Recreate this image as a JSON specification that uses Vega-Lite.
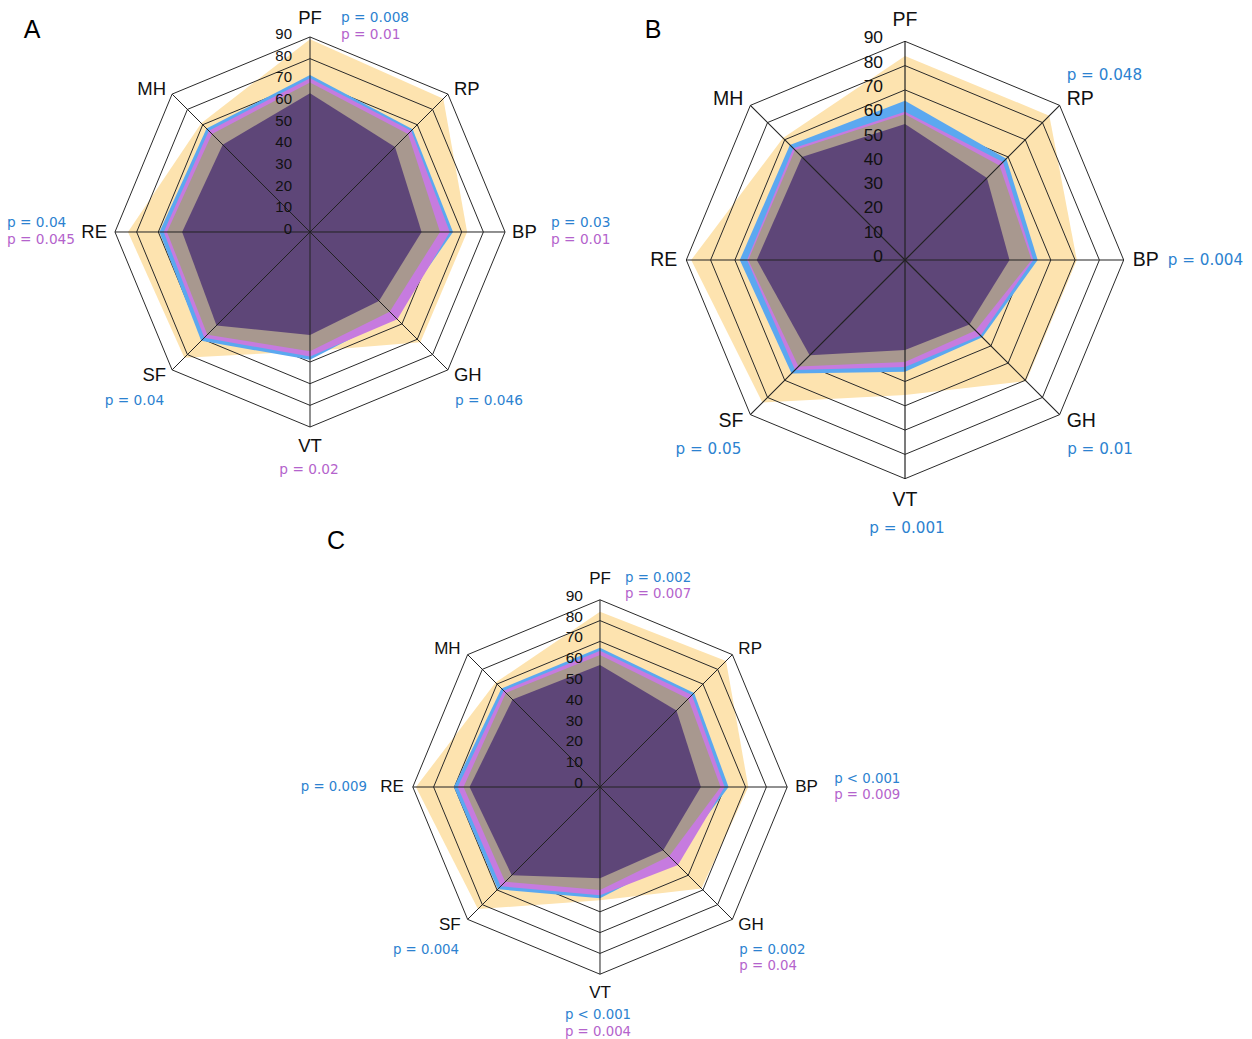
{
  "$schema": "https://vega.github.io/schema/vega-lite/v6.json",
  "padding": 0,
  "background": "white",
  "config": {"view": {"stroke": null}, "concat": {"spacing": 0}},
  "datasets": {
    "scores": [
      {"panel": "A", "grp": "O", "PF": 89, "RP": 87, "BP": 72.5, "GH": 72, "VT": 55, "SF": 82, "RE": 84, "MH": 71},
      {"panel": "A", "grp": "B", "PF": 72.5, "RP": 67, "BP": 66, "GH": 55, "VT": 59, "SF": 71, "RE": 69.5, "MH": 67.5},
      {"panel": "A", "grp": "M", "PF": 71, "RP": 66, "BP": 64.5, "GH": 57, "VT": 57.5, "SF": 69, "RE": 67.5, "MH": 66},
      {"panel": "A", "grp": "G", "PF": 69, "RP": 64, "BP": 60, "GH": 52, "VT": 55, "SF": 67, "RE": 66, "MH": 64},
      {"panel": "A", "grp": "D", "PF": 64, "RP": 55.5, "BP": 51.5, "GH": 45, "VT": 47.5, "SF": 61, "RE": 59, "MH": 57},
      {"panel": "B", "grp": "O", "PF": 84, "RP": 84, "BP": 70.7, "GH": 70.5, "VT": 55.6, "SF": 83, "RE": 88, "MH": 71},
      {"panel": "B", "grp": "B", "PF": 65.5, "RP": 59, "BP": 54.6, "GH": 45, "VT": 46, "SF": 66, "RE": 68, "MH": 67},
      {"panel": "B", "grp": "M", "PF": 61, "RP": 57, "BP": 52.8, "GH": 44, "VT": 44, "SF": 64, "RE": 65, "MH": 65},
      {"panel": "B", "grp": "G", "PF": 60, "RP": 55, "BP": 52.1, "GH": 41, "VT": 42, "SF": 62, "RE": 64.5, "MH": 64},
      {"panel": "B", "grp": "D", "PF": 56, "RP": 47.7, "BP": 43, "GH": 37.5, "VT": 37, "SF": 55.5, "RE": 61, "MH": 60},
      {"panel": "C", "grp": "O", "PF": 84.3, "RP": 85.7, "BP": 71.3, "GH": 69, "VT": 54.5, "SF": 83, "RE": 88.5, "MH": 71},
      {"panel": "C", "grp": "B", "PF": 67, "RP": 64, "BP": 61.8, "GH": 50, "VT": 53.5, "SF": 69.5, "RE": 70.3, "MH": 67},
      {"panel": "C", "grp": "M", "PF": 65.5, "RP": 62.5, "BP": 59.9, "GH": 53, "VT": 52, "SF": 67.5, "RE": 68.4, "MH": 65.5},
      {"panel": "C", "grp": "G", "PF": 63.5, "RP": 60, "BP": 58, "GH": 47, "VT": 49.5, "SF": 64.5, "RE": 65.6, "MH": 64},
      {"panel": "C", "grp": "D", "PF": 58.7, "RP": 52, "BP": 48.5, "GH": 43, "VT": 43.9, "SF": 60, "RE": 62.7, "MH": 59.5}
    ],
    "rings": [
      {"level": 0, "k": [0, 1, 2, 3, 4, 5, 6, 7]},
      {"level": 10, "k": [0, 1, 2, 3, 4, 5, 6, 7]},
      {"level": 20, "k": [0, 1, 2, 3, 4, 5, 6, 7]},
      {"level": 30, "k": [0, 1, 2, 3, 4, 5, 6, 7]},
      {"level": 40, "k": [0, 1, 2, 3, 4, 5, 6, 7]},
      {"level": 50, "k": [0, 1, 2, 3, 4, 5, 6, 7]},
      {"level": 60, "k": [0, 1, 2, 3, 4, 5, 6, 7]},
      {"level": 70, "k": [0, 1, 2, 3, 4, 5, 6, 7]},
      {"level": 80, "k": [0, 1, 2, 3, 4, 5, 6, 7]},
      {"level": 90, "k": [0, 1, 2, 3, 4, 5, 6, 7]}
    ],
    "axes": [
      {"axis": "PF"}, {"axis": "RP"}, {"axis": "BP"}, {"axis": "GH"},
      {"axis": "VT"}, {"axis": "SF"}, {"axis": "RE"}, {"axis": "MH"}
    ],
    "pvals": [
      {"panel": "A", "axis": "PF", "grp": "b", "text": "p = 0.008"},
      {"panel": "A", "axis": "PF", "grp": "m", "text": "p = 0.01"},
      {"panel": "A", "axis": "BP", "grp": "b", "text": "p = 0.03"},
      {"panel": "A", "axis": "BP", "grp": "m", "text": "p = 0.01"},
      {"panel": "A", "axis": "GH", "grp": "b", "text": "p = 0.046"},
      {"panel": "A", "axis": "VT", "grp": "m", "text": "p = 0.02"},
      {"panel": "A", "axis": "SF", "grp": "b", "text": "p = 0.04"},
      {"panel": "A", "axis": "RE", "grp": "b", "text": "p = 0.04"},
      {"panel": "A", "axis": "RE", "grp": "m", "text": "p = 0.045"},
      {"panel": "B", "axis": "RP", "grp": "b", "text": "p = 0.048"},
      {"panel": "B", "axis": "BP", "grp": "b", "text": "p = 0.004"},
      {"panel": "B", "axis": "GH", "grp": "b", "text": "p = 0.01"},
      {"panel": "B", "axis": "VT", "grp": "b", "text": "p = 0.001"},
      {"panel": "B", "axis": "SF", "grp": "b", "text": "p = 0.05"},
      {"panel": "C", "axis": "PF", "grp": "b", "text": "p = 0.002"},
      {"panel": "C", "axis": "PF", "grp": "m", "text": "p = 0.007"},
      {"panel": "C", "axis": "BP", "grp": "b", "text": "p < 0.001"},
      {"panel": "C", "axis": "BP", "grp": "m", "text": "p = 0.009"},
      {"panel": "C", "axis": "GH", "grp": "b", "text": "p = 0.002"},
      {"panel": "C", "axis": "GH", "grp": "m", "text": "p = 0.04"},
      {"panel": "C", "axis": "VT", "grp": "b", "text": "p < 0.001"},
      {"panel": "C", "axis": "VT", "grp": "m", "text": "p = 0.004"},
      {"panel": "C", "axis": "SF", "grp": "b", "text": "p = 0.004"},
      {"panel": "C", "axis": "RE", "grp": "b", "text": "p = 0.009"}
    ]
  },
  "columns": 2,
  "spacing": 0,
  "bounds": "flush",
  "resolve": {"scale": {"x": "independent", "y": "independent"}},
  "concat": [
    {
      "width": 625, "height": 530,
      "encoding": {
        "x": {"field": "x", "type": "quantitative", "scale": {"domain": [-143.06, 145.36], "nice": false, "zero": false}, "axis": null},
        "y": {"field": "y", "type": "quantitative", "scale": {"domain": [-137.52, 107.06], "nice": false, "zero": false}, "axis": null}
      },
      "layer": [
        {"data": {"name": "scores"}, "transform": [{"filter": "datum.panel=='A' && datum.grp=='O'"}, {"fold": ["PF","RP","BP","GH","VT","SF","RE","MH"], "as": ["axis","v"]}, {"calculate": "indexof(['PF','RP','BP','GH','VT','SF','RE','MH'],datum.axis)", "as": "k"}, {"calculate": "datum.v*sin(datum.k*PI/4)", "as": "x"}, {"calculate": "datum.v*cos(datum.k*PI/4)", "as": "y"}],
         "mark": {"type": "line", "interpolate": "linear-closed", "fill": "#FDE3AF", "strokeOpacity": 0}, "encoding": {"order": {"field": "k", "type": "quantitative"}}},
        {"data": {"name": "rings"}, "transform": [{"flatten": ["k"]}, {"calculate": "datum.level*sin(datum.k*PI/4)", "as": "x"}, {"calculate": "datum.level*cos(datum.k*PI/4)", "as": "y"}],
         "mark": {"type": "line", "interpolate": "linear-closed", "stroke": "#2a2a2a", "strokeWidth": 1}, "encoding": {"detail": {"field": "level", "type": "nominal"}, "order": {"field": "k", "type": "quantitative"}}},
        {"data": {"name": "scores"}, "transform": [{"filter": "datum.panel=='A' && datum.grp=='B'"}, {"fold": ["PF","RP","BP","GH","VT","SF","RE","MH"], "as": ["axis","v"]}, {"calculate": "indexof(['PF','RP','BP','GH','VT','SF','RE','MH'],datum.axis)", "as": "k"}, {"calculate": "datum.v*sin(datum.k*PI/4)", "as": "x"}, {"calculate": "datum.v*cos(datum.k*PI/4)", "as": "y"}],
         "mark": {"type": "line", "interpolate": "linear-closed", "fill": "#5BA8F0", "strokeOpacity": 0}, "encoding": {"order": {"field": "k", "type": "quantitative"}}},
        {"data": {"name": "scores"}, "transform": [{"filter": "datum.panel=='A' && datum.grp=='M'"}, {"fold": ["PF","RP","BP","GH","VT","SF","RE","MH"], "as": ["axis","v"]}, {"calculate": "indexof(['PF','RP','BP','GH','VT','SF','RE','MH'],datum.axis)", "as": "k"}, {"calculate": "datum.v*sin(datum.k*PI/4)", "as": "x"}, {"calculate": "datum.v*cos(datum.k*PI/4)", "as": "y"}],
         "mark": {"type": "line", "interpolate": "linear-closed", "fill": "#C67BDF", "strokeOpacity": 0}, "encoding": {"order": {"field": "k", "type": "quantitative"}}},
        {"data": {"name": "scores"}, "transform": [{"filter": "datum.panel=='A' && datum.grp=='G'"}, {"fold": ["PF","RP","BP","GH","VT","SF","RE","MH"], "as": ["axis","v"]}, {"calculate": "indexof(['PF','RP','BP','GH','VT','SF','RE','MH'],datum.axis)", "as": "k"}, {"calculate": "datum.v*sin(datum.k*PI/4)", "as": "x"}, {"calculate": "datum.v*cos(datum.k*PI/4)", "as": "y"}],
         "mark": {"type": "line", "interpolate": "linear-closed", "fill": "#A8988F", "strokeOpacity": 0}, "encoding": {"order": {"field": "k", "type": "quantitative"}}},
        {"data": {"name": "scores"}, "transform": [{"filter": "datum.panel=='A' && datum.grp=='D'"}, {"fold": ["PF","RP","BP","GH","VT","SF","RE","MH"], "as": ["axis","v"]}, {"calculate": "indexof(['PF','RP','BP','GH','VT','SF','RE','MH'],datum.axis)", "as": "k"}, {"calculate": "datum.v*sin(datum.k*PI/4)", "as": "x"}, {"calculate": "datum.v*cos(datum.k*PI/4)", "as": "y"}],
         "mark": {"type": "line", "interpolate": "linear-closed", "fill": "#5E4678", "strokeOpacity": 0}, "encoding": {"order": {"field": "k", "type": "quantitative"}}},
        {"data": {"name": "axes"}, "transform": [{"calculate": "indexof(['PF','RP','BP','GH','VT','SF','RE','MH'],datum.axis)", "as": "k"}, {"calculate": "0", "as": "x"}, {"calculate": "0", "as": "y"}, {"calculate": "90*sin(datum.k*PI/4)", "as": "x2"}, {"calculate": "90*cos(datum.k*PI/4)", "as": "y2"}],
         "mark": {"type": "rule", "stroke": "#222222", "strokeWidth": 1}, "encoding": {"x2": {"field": "x2"}, "y2": {"field": "y2"}}},
        {"data": {"name": "rings"}, "transform": [{"calculate": "0", "as": "x"}, {"calculate": "datum.level", "as": "y"}],
         "mark": {"type": "text", "align": "right", "baseline": "middle", "dx": -18, "dy": -3, "fontSize": 15, "font": "Liberation Sans", "fill": "#111111"}, "encoding": {"text": {"field": "level", "type": "nominal"}}},
        {"data": {"name": "axes"}, "transform": [{"calculate": "indexof(['PF','RP','BP','GH','VT','SF','RE','MH'],datum.axis)", "as": "k"}, {"calculate": "90*sin(datum.k*PI/4)", "as": "x"}, {"calculate": "90*cos(datum.k*PI/4)", "as": "y"}],
         "mark": {"type": "text", "baseline": "middle", "fontSize": 18.5, "font": "Liberation Sans", "fill": "#111111", "align": {"expr": "['center','left','left','left','center','right','right','right'][datum.k]"}, "dx": {"expr": "[0,6,7,6,0,-6,-8,-6][datum.k]"}, "dy": {"expr": "[-19,-5,0,5,19,5,0,-5][datum.k]"}},
         "encoding": {"text": {"field": "axis", "type": "nominal"}}},
        {"data": {"name": "pvals"}, "transform": [{"filter": "datum.panel=='A'"}, {"joinaggregate": [{"op": "count", "as": "n"}], "groupby": ["axis"]}, {"calculate": "indexof(['PF','RP','BP','GH','VT','SF','RE','MH'],datum.axis)", "as": "k"}, {"calculate": "datum.grp=='m' && datum.n==2 ? 1 : 0", "as": "line"}, {"calculate": "90*sin(datum.k*PI/4)", "as": "x"}, {"calculate": "90*cos(datum.k*PI/4)", "as": "y"}],
         "mark": {"type": "text", "baseline": "middle", "fontSize": 13.7, "font": "DejaVu Sans", "align": {"expr": "['left','left','left','left','center','right','left','right'][datum.k]"}, "dx": {"expr": "[31,7,46,7,-1,-8,-108,-7][datum.k]"}, "dy": {"expr": "[-19,-30,-8.5*(datum.n-1),31,43,31,-8.5*(datum.n-1),-30][datum.k] + 17*datum.line"}},
         "encoding": {"text": {"field": "text", "type": "nominal"}, "color": {"field": "grp", "type": "nominal", "scale": {"domain": ["b", "m"], "range": ["#2C82D0", "#B463CC"]}, "legend": null}}},
        {"data": {"values": [{"panel": "A"}]}, "transform": [{"calculate": "-128.29", "as": "x"}, {"calculate": "93.22", "as": "y"}],
         "mark": {"type": "text", "align": "center", "baseline": "middle", "fontSize": 25, "font": "Liberation Sans", "fill": "#000000"},
         "encoding": {"text": {"field": "panel", "type": "nominal"}}}
      ]
    },
    {
      "width": 627, "height": 530,
      "encoding": {
        "x": {"field": "x", "type": "quantitative", "scale": {"domain": [-115.23, 142.80], "nice": false, "zero": false}, "axis": null},
        "y": {"field": "y", "type": "quantitative", "scale": {"domain": [-111.11, 107.0], "nice": false, "zero": false}, "axis": null}
      },
      "layer": [
        {"data": {"name": "scores"}, "transform": [{"filter": "datum.panel=='B' && datum.grp=='O'"}, {"fold": ["PF","RP","BP","GH","VT","SF","RE","MH"], "as": ["axis","v"]}, {"calculate": "indexof(['PF','RP','BP','GH','VT','SF','RE','MH'],datum.axis)", "as": "k"}, {"calculate": "datum.v*sin(datum.k*PI/4)", "as": "x"}, {"calculate": "datum.v*cos(datum.k*PI/4)", "as": "y"}],
         "mark": {"type": "line", "interpolate": "linear-closed", "fill": "#FDE3AF", "strokeOpacity": 0}, "encoding": {"order": {"field": "k", "type": "quantitative"}}},
        {"data": {"name": "rings"}, "transform": [{"flatten": ["k"]}, {"calculate": "datum.level*sin(datum.k*PI/4)", "as": "x"}, {"calculate": "datum.level*cos(datum.k*PI/4)", "as": "y"}],
         "mark": {"type": "line", "interpolate": "linear-closed", "stroke": "#2a2a2a", "strokeWidth": 1}, "encoding": {"detail": {"field": "level", "type": "nominal"}, "order": {"field": "k", "type": "quantitative"}}},
        {"data": {"name": "scores"}, "transform": [{"filter": "datum.panel=='B' && datum.grp=='B'"}, {"fold": ["PF","RP","BP","GH","VT","SF","RE","MH"], "as": ["axis","v"]}, {"calculate": "indexof(['PF','RP','BP','GH','VT','SF','RE','MH'],datum.axis)", "as": "k"}, {"calculate": "datum.v*sin(datum.k*PI/4)", "as": "x"}, {"calculate": "datum.v*cos(datum.k*PI/4)", "as": "y"}],
         "mark": {"type": "line", "interpolate": "linear-closed", "fill": "#5BA8F0", "strokeOpacity": 0}, "encoding": {"order": {"field": "k", "type": "quantitative"}}},
        {"data": {"name": "scores"}, "transform": [{"filter": "datum.panel=='B' && datum.grp=='M'"}, {"fold": ["PF","RP","BP","GH","VT","SF","RE","MH"], "as": ["axis","v"]}, {"calculate": "indexof(['PF','RP','BP','GH','VT','SF','RE','MH'],datum.axis)", "as": "k"}, {"calculate": "datum.v*sin(datum.k*PI/4)", "as": "x"}, {"calculate": "datum.v*cos(datum.k*PI/4)", "as": "y"}],
         "mark": {"type": "line", "interpolate": "linear-closed", "fill": "#C67BDF", "strokeOpacity": 0}, "encoding": {"order": {"field": "k", "type": "quantitative"}}},
        {"data": {"name": "scores"}, "transform": [{"filter": "datum.panel=='B' && datum.grp=='G'"}, {"fold": ["PF","RP","BP","GH","VT","SF","RE","MH"], "as": ["axis","v"]}, {"calculate": "indexof(['PF','RP','BP','GH','VT','SF','RE','MH'],datum.axis)", "as": "k"}, {"calculate": "datum.v*sin(datum.k*PI/4)", "as": "x"}, {"calculate": "datum.v*cos(datum.k*PI/4)", "as": "y"}],
         "mark": {"type": "line", "interpolate": "linear-closed", "fill": "#A8988F", "strokeOpacity": 0}, "encoding": {"order": {"field": "k", "type": "quantitative"}}},
        {"data": {"name": "scores"}, "transform": [{"filter": "datum.panel=='B' && datum.grp=='D'"}, {"fold": ["PF","RP","BP","GH","VT","SF","RE","MH"], "as": ["axis","v"]}, {"calculate": "indexof(['PF','RP','BP','GH','VT','SF','RE','MH'],datum.axis)", "as": "k"}, {"calculate": "datum.v*sin(datum.k*PI/4)", "as": "x"}, {"calculate": "datum.v*cos(datum.k*PI/4)", "as": "y"}],
         "mark": {"type": "line", "interpolate": "linear-closed", "fill": "#5E4678", "strokeOpacity": 0}, "encoding": {"order": {"field": "k", "type": "quantitative"}}},
        {"data": {"name": "axes"}, "transform": [{"calculate": "indexof(['PF','RP','BP','GH','VT','SF','RE','MH'],datum.axis)", "as": "k"}, {"calculate": "0", "as": "x"}, {"calculate": "0", "as": "y"}, {"calculate": "90*sin(datum.k*PI/4)", "as": "x2"}, {"calculate": "90*cos(datum.k*PI/4)", "as": "y2"}],
         "mark": {"type": "rule", "stroke": "#222222", "strokeWidth": 1.2}, "encoding": {"x2": {"field": "x2"}, "y2": {"field": "y2"}}},
        {"data": {"name": "rings"}, "transform": [{"calculate": "0", "as": "x"}, {"calculate": "datum.level", "as": "y"}],
         "mark": {"type": "text", "align": "right", "baseline": "middle", "dx": -22, "dy": -3, "fontSize": 17.4, "font": "Liberation Sans", "fill": "#111111"}, "encoding": {"text": {"field": "level", "type": "nominal"}}},
        {"data": {"name": "axes"}, "transform": [{"calculate": "indexof(['PF','RP','BP','GH','VT','SF','RE','MH'],datum.axis)", "as": "k"}, {"calculate": "90*sin(datum.k*PI/4)", "as": "x"}, {"calculate": "90*cos(datum.k*PI/4)", "as": "y"}],
         "mark": {"type": "text", "baseline": "middle", "fontSize": 19.5, "font": "Liberation Sans", "fill": "#111111", "align": {"expr": "['center','left','left','left','center','right','right','right'][datum.k]"}, "dx": {"expr": "[0,7,9,7,0,-7,-9,-7][datum.k]"}, "dy": {"expr": "[-21,-6,0,6,21,6,0,-6][datum.k]"}},
         "encoding": {"text": {"field": "axis", "type": "nominal"}}},
        {"data": {"name": "pvals"}, "transform": [{"filter": "datum.panel=='B'"}, {"joinaggregate": [{"op": "count", "as": "n"}], "groupby": ["axis"]}, {"calculate": "indexof(['PF','RP','BP','GH','VT','SF','RE','MH'],datum.axis)", "as": "k"}, {"calculate": "datum.grp=='m' && datum.n==2 ? 1 : 0", "as": "line"}, {"calculate": "90*sin(datum.k*PI/4)", "as": "x"}, {"calculate": "90*cos(datum.k*PI/4)", "as": "y"}],
         "mark": {"type": "text", "baseline": "middle", "fontSize": 15.2, "font": "DejaVu Sans", "align": {"expr": "['left','left','left','left','center','right','left','right'][datum.k]"}, "dx": {"expr": "[28,7,44,7.5,2,-9,-110,-7][datum.k]"}, "dy": {"expr": "[-21,-30,-9.5*(datum.n-1),34,49,34,-9.5*(datum.n-1),-30][datum.k] + 19*datum.line"}},
         "encoding": {"text": {"field": "text", "type": "nominal"}, "color": {"field": "grp", "type": "nominal", "scale": {"domain": ["b", "m"], "range": ["#2C82D0", "#B463CC"]}, "legend": null}}},
        {"data": {"values": [{"panel": "B"}]}, "transform": [{"calculate": "-103.70", "as": "x"}, {"calculate": "94.65", "as": "y"}],
         "mark": {"type": "text", "align": "center", "baseline": "middle", "fontSize": 25, "font": "Liberation Sans", "fill": "#000000"},
         "encoding": {"text": {"field": "panel", "type": "nominal"}}}
      ]
    },
    {
      "width": 625, "height": 509,
      "encoding": {
        "x": {"field": "x", "type": "quantitative", "scale": {"domain": [-288.46, 12.02], "nice": false, "zero": false}, "axis": null},
        "y": {"field": "y", "type": "quantitative", "scale": {"domain": [-121.15, 123.56], "nice": false, "zero": false}, "axis": null}
      },
      "layer": [
        {"data": {"name": "scores"}, "transform": [{"filter": "datum.panel=='C' && datum.grp=='O'"}, {"fold": ["PF","RP","BP","GH","VT","SF","RE","MH"], "as": ["axis","v"]}, {"calculate": "indexof(['PF','RP','BP','GH','VT','SF','RE','MH'],datum.axis)", "as": "k"}, {"calculate": "datum.v*sin(datum.k*PI/4)", "as": "x"}, {"calculate": "datum.v*cos(datum.k*PI/4)", "as": "y"}],
         "mark": {"type": "line", "interpolate": "linear-closed", "fill": "#FDE3AF", "strokeOpacity": 0}, "encoding": {"order": {"field": "k", "type": "quantitative"}}},
        {"data": {"name": "rings"}, "transform": [{"flatten": ["k"]}, {"calculate": "datum.level*sin(datum.k*PI/4)", "as": "x"}, {"calculate": "datum.level*cos(datum.k*PI/4)", "as": "y"}],
         "mark": {"type": "line", "interpolate": "linear-closed", "stroke": "#2a2a2a", "strokeWidth": 1}, "encoding": {"detail": {"field": "level", "type": "nominal"}, "order": {"field": "k", "type": "quantitative"}}},
        {"data": {"name": "scores"}, "transform": [{"filter": "datum.panel=='C' && datum.grp=='B'"}, {"fold": ["PF","RP","BP","GH","VT","SF","RE","MH"], "as": ["axis","v"]}, {"calculate": "indexof(['PF','RP','BP','GH','VT','SF','RE','MH'],datum.axis)", "as": "k"}, {"calculate": "datum.v*sin(datum.k*PI/4)", "as": "x"}, {"calculate": "datum.v*cos(datum.k*PI/4)", "as": "y"}],
         "mark": {"type": "line", "interpolate": "linear-closed", "fill": "#5BA8F0", "strokeOpacity": 0}, "encoding": {"order": {"field": "k", "type": "quantitative"}}},
        {"data": {"name": "scores"}, "transform": [{"filter": "datum.panel=='C' && datum.grp=='M'"}, {"fold": ["PF","RP","BP","GH","VT","SF","RE","MH"], "as": ["axis","v"]}, {"calculate": "indexof(['PF','RP','BP','GH','VT','SF','RE','MH'],datum.axis)", "as": "k"}, {"calculate": "datum.v*sin(datum.k*PI/4)", "as": "x"}, {"calculate": "datum.v*cos(datum.k*PI/4)", "as": "y"}],
         "mark": {"type": "line", "interpolate": "linear-closed", "fill": "#C67BDF", "strokeOpacity": 0}, "encoding": {"order": {"field": "k", "type": "quantitative"}}},
        {"data": {"name": "scores"}, "transform": [{"filter": "datum.panel=='C' && datum.grp=='G'"}, {"fold": ["PF","RP","BP","GH","VT","SF","RE","MH"], "as": ["axis","v"]}, {"calculate": "indexof(['PF','RP','BP','GH','VT','SF','RE','MH'],datum.axis)", "as": "k"}, {"calculate": "datum.v*sin(datum.k*PI/4)", "as": "x"}, {"calculate": "datum.v*cos(datum.k*PI/4)", "as": "y"}],
         "mark": {"type": "line", "interpolate": "linear-closed", "fill": "#A8988F", "strokeOpacity": 0}, "encoding": {"order": {"field": "k", "type": "quantitative"}}},
        {"data": {"name": "scores"}, "transform": [{"filter": "datum.panel=='C' && datum.grp=='D'"}, {"fold": ["PF","RP","BP","GH","VT","SF","RE","MH"], "as": ["axis","v"]}, {"calculate": "indexof(['PF','RP','BP','GH','VT','SF','RE','MH'],datum.axis)", "as": "k"}, {"calculate": "datum.v*sin(datum.k*PI/4)", "as": "x"}, {"calculate": "datum.v*cos(datum.k*PI/4)", "as": "y"}],
         "mark": {"type": "line", "interpolate": "linear-closed", "fill": "#5E4678", "strokeOpacity": 0}, "encoding": {"order": {"field": "k", "type": "quantitative"}}},
        {"data": {"name": "axes"}, "transform": [{"calculate": "indexof(['PF','RP','BP','GH','VT','SF','RE','MH'],datum.axis)", "as": "k"}, {"calculate": "0", "as": "x"}, {"calculate": "0", "as": "y"}, {"calculate": "90*sin(datum.k*PI/4)", "as": "x2"}, {"calculate": "90*cos(datum.k*PI/4)", "as": "y2"}],
         "mark": {"type": "rule", "stroke": "#222222", "strokeWidth": 1}, "encoding": {"x2": {"field": "x2"}, "y2": {"field": "y2"}}},
        {"data": {"name": "rings"}, "transform": [{"calculate": "0", "as": "x"}, {"calculate": "datum.level", "as": "y"}],
         "mark": {"type": "text", "align": "right", "baseline": "middle", "dx": -17, "dy": -4, "fontSize": 15.5, "font": "Liberation Sans", "fill": "#111111"}, "encoding": {"text": {"field": "level", "type": "nominal"}}},
        {"data": {"name": "axes"}, "transform": [{"calculate": "indexof(['PF','RP','BP','GH','VT','SF','RE','MH'],datum.axis)", "as": "k"}, {"calculate": "90*sin(datum.k*PI/4)", "as": "x"}, {"calculate": "90*cos(datum.k*PI/4)", "as": "y"}],
         "mark": {"type": "text", "baseline": "middle", "fontSize": 17, "font": "Liberation Sans", "fill": "#111111", "align": {"expr": "['center','left','left','left','center','right','right','right'][datum.k]"}, "dx": {"expr": "[0,6,8,6,0,-7,-9,-7][datum.k]"}, "dy": {"expr": "[-21,-6,0,6,19,6,0,-6][datum.k]"}},
         "encoding": {"text": {"field": "axis", "type": "nominal"}}},
        {"data": {"name": "pvals"}, "transform": [{"filter": "datum.panel=='C'"}, {"joinaggregate": [{"op": "count", "as": "n"}], "groupby": ["axis"]}, {"calculate": "indexof(['PF','RP','BP','GH','VT','SF','RE','MH'],datum.axis)", "as": "k"}, {"calculate": "datum.grp=='m' && datum.n==2 ? 1 : 0", "as": "line"}, {"calculate": "90*sin(datum.k*PI/4)", "as": "x"}, {"calculate": "90*cos(datum.k*PI/4)", "as": "y"}],
         "mark": {"type": "text", "baseline": "middle", "fontSize": 13.3, "font": "DejaVu Sans", "align": {"expr": "['left','left','left','left','center','right','left','right'][datum.k]"}, "dx": {"expr": "[25,7,47,7,-2,-8.6,-112,-7][datum.k]"}, "dy": {"expr": "[-22,-30,-8.5*(datum.n-1),30.6,41,30.6,-8.5*(datum.n-1),-30][datum.k] + 16.5*datum.line"}},
         "encoding": {"text": {"field": "text", "type": "nominal"}, "color": {"field": "grp", "type": "nominal", "scale": {"domain": ["b", "m"], "range": ["#2C82D0", "#B463CC"]}, "legend": null}}},
        {"data": {"values": [{"panel": "C"}]}, "transform": [{"calculate": "-126.92", "as": "x"}, {"calculate": "118.27", "as": "y"}],
         "mark": {"type": "text", "align": "center", "baseline": "middle", "fontSize": 25, "font": "Liberation Sans", "fill": "#000000"},
         "encoding": {"text": {"field": "panel", "type": "nominal"}}}
      ]
    }
  ]
}
